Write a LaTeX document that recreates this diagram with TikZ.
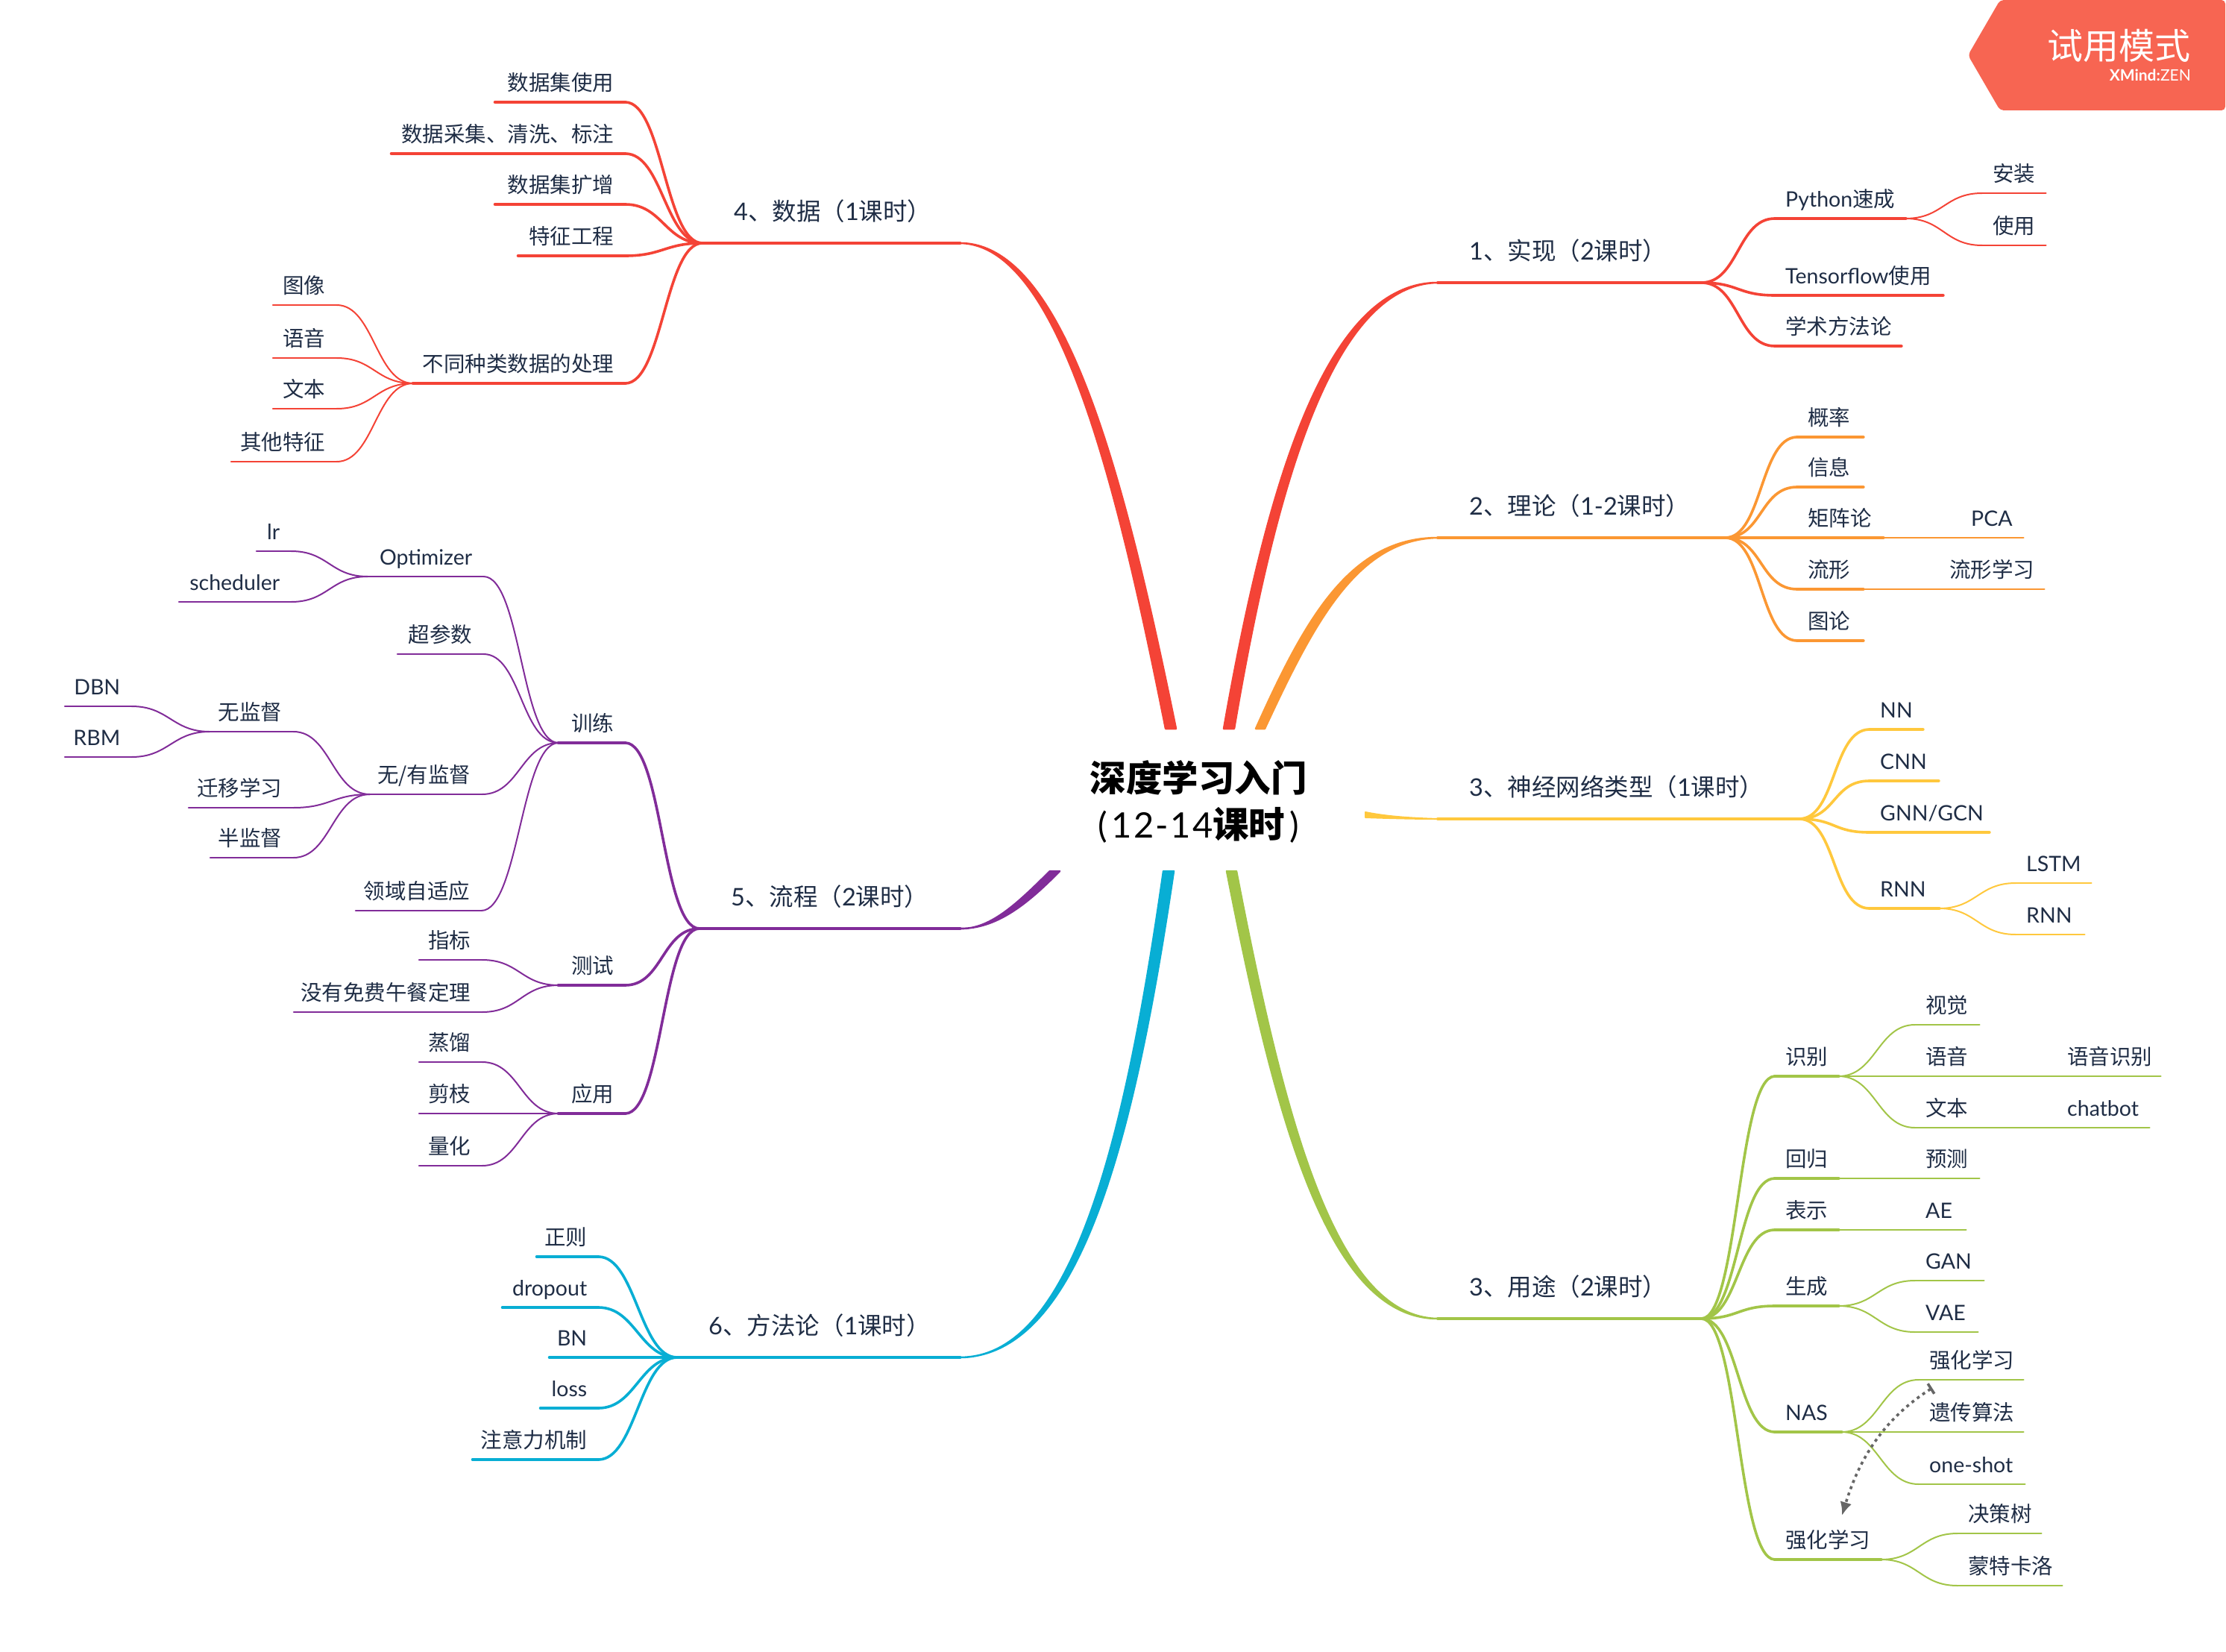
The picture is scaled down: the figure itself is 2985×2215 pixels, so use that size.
\documentclass[tikz,border=0pt]{standalone}
\usepackage{fontspec}
\usepackage{xcolor}
\usetikzlibrary{arrows.meta}
\setmainfont{Noto Sans CJK SC}
\newfontfamily\lat{Lato}
\definecolor{navyc}{HTML}{1F2D45}
\definecolor{redc}{HTML}{F44336}
\definecolor{orangec}{HTML}{FB9733}
\definecolor{yellowc}{HTML}{FFC83D}
\definecolor{greenc}{HTML}{A2C548}
\definecolor{cyanc}{HTML}{08AED4}
\definecolor{purplec}{HTML}{812C99}
\definecolor{tagc}{HTML}{F76552}

\begin{document}
\begin{tikzpicture}[
x=1pt,y=-1pt,
topic/.style={
inner ysep=0pt,
inner xsep=14pt,
text=navyc,
text height=22pt,
text depth=15pt,
anchor=south west,
font=\fontsize{28.5}{34}\selectfont
},
ulthin/.style={append after command={(\tikzlastnode.south west) edge[line width=2.6pt,line cap=round] (\tikzlastnode.south east)}},
ulthick/.style={append after command={(\tikzlastnode.south west) edge[line width=4.6pt,line cap=round] (\tikzlastnode.south east)}},
rbase/.style={topic,text width=#1pt-28pt,align=left},
lbase/.style={topic,inner xsep=15pt,text width=#1pt-30pt,align=right,execute at begin node={\hspace*{-40pt}}},
rleaf/.style={rbase=#1,ulthin},
lleaf/.style={lbase=#1,ulthin},
rsub/.style={rbase=#1,ulthick},
lsub/.style={lbase=#1,ulthick},
rmain/.style={topic,inner xsep=42pt,text depth=30pt,font=\fontsize{32.5}{38}\selectfont,text width=#1pt-84pt,align=left},
lmain/.style={topic,inner xsep=42pt,text depth=30pt,font=\fontsize{32.5}{38}\selectfont,text width=#1pt-84pt,align=right},
mainline/.style={line width=4pt,line cap=round},
subcurve/.style={line width=3.6pt,line cap=round},
leafcurve/.style={line width=2pt,line cap=round},
link/.style={line width=1.6pt},
band/.style={line width=2.5pt,line join=round},
toright/.style={out=0,in=180,distance=50pt},
toleft/.style={out=180,in=0,distance=50pt}
]
\useasboundingbox (0,0) rectangle (2985,2215);

\node[font=\fontsize{48.5}{62}\selectfont\bfseries,align=center,text=black,inner sep=0pt] (root) at (1607,1075)
{深度学习入门\\{\fontsize{47}{62}\selectfont\lat\mdseries\addfontfeature{LetterSpace=5}(\kern6pt 12-14}课时{\fontsize{47}{62}\selectfont\lat\mdseries\kern6pt)}};

\coordinate (redRa) at (1641,977);
\coordinate (redRb) at (1655,977);
\coordinate (orangea) at (1684,977);
\coordinate (orangeb) at (1696,977);
\coordinate (redLa) at (1563,977);
\coordinate (redLb) at (1577,977);
\coordinate (yellowa) at (1831,1089);
\coordinate (yellowb) at (1831,1096);
\coordinate (purplea) at (1408,1168);
\coordinate (purpleb) at (1421,1168);
\coordinate (cyana) at (1560,1168);
\coordinate (cyanb) at (1574,1168);
\coordinate (greena) at (1645,1168);
\coordinate (greenb) at (1658,1168);

% 1 right, red
\begin{scope}[redc]
\node[rmain=353] (impl) at (1928,379) {{\lat 1}、实现（{\lat 2}课时）};
\node[rsub=175] (python) at (2380,293) {{\lat Python}速成};
\node[rsub=225] (tf) at (2380,396) {{\lat Tensorflow}使用};
\node[rsub=169] (method1) at (2380,464) {学术方法论};
\node[rleaf=85] (install) at (2658,259) {安装};
\node[rleaf=85] (usepy) at (2658,329) {使用};
\filldraw[band] (impl.south west) .. controls (1780,379) and (1700,640) .. (redRa) -- (redRb) .. controls (1712,640) and (1790,381) .. (impl.south west) -- cycle;
\draw[mainline] (impl.south west) -- (impl.south east);
\draw[subcurve] (impl.south east) to[toright] (python.south west);
\draw[subcurve] (impl.south east) to[toright] (tf.south west);
\draw[subcurve] (impl.south east) to[toright] (method1.south west);
\draw[leafcurve] (python.south east) to[toright] (install.south west);
\draw[leafcurve] (python.south east) to[toright] (usepy.south west);
\end{scope}

% 2 right, orange
\begin{scope}[orangec]
\node[rmain=385] (theory) at (1928,721) {{\lat 2}、理论（{\lat 1-2}课时）};
\node[rsub=88] (prob) at (2410,586) {概率};
\node[rsub=88] (info) at (2410,653) {信息};
\node[rsub=115] (matrix) at (2410,721) {矩阵论};
\node[rsub=88] (manifold) at (2410,790) {流形};
\node[rsub=88] (graph) at (2410,859) {图论};
\node[rleaf=84] (pca) at (2629,721) {{\lat PCA}};
\node[rleaf=141] (mlearn) at (2600,790) {流形学习};
\filldraw[band] (theory.south west) .. controls (1810,721) and (1750,830) .. (orangea) -- (orangeb) .. controls (1762,835) and (1820,723) .. (theory.south west) -- cycle;
\draw[mainline] (theory.south west) -- (theory.south east);
\draw[subcurve] (theory.south east) to[toright] (prob.south west);
\draw[subcurve] (theory.south east) to[toright] (info.south west);
\draw[subcurve] (theory.south east) -- (matrix.south west);
\draw[subcurve] (theory.south east) to[toright] (manifold.south west);
\draw[subcurve] (theory.south east) to[toright] (graph.south west);
\draw[link] (matrix.south east) -- (pca.south west);
\draw[link] (manifold.south east) -- (mlearn.south west);
\end{scope}

% 3 right, yellow
\begin{scope}[yellowc]
\node[rmain=484] (nntype) at (1928,1098) {{\lat 3}、神经网络类型（{\lat 1}课时）};
\node[rsub=71] (nn) at (2507,978) {{\lat NN}};
\node[rsub=92] (cnn) at (2507,1047) {{\lat CNN}};
\node[rsub=160] (gnn) at (2507,1116) {{\lat GNN/GCN}};
\node[rsub=93] (rnn) at (2507,1218) {{\lat RNN}};
\node[rleaf=101] (lstm) at (2703,1184) {{\lat LSTM}};
\node[rleaf=92] (rnnb) at (2703,1253) {{\lat RNN}};
\filldraw[line width=2pt,line join=round] (nntype.south west) .. controls (1895,1098) and (1860,1097) .. (yellowb) -- (yellowa) .. controls (1860,1095) and (1895,1097) .. (nntype.south west) -- cycle;
\draw[mainline] (nntype.south west) -- (nntype.south east);
\draw[subcurve] (nntype.south east) to[toright] (nn.south west);
\draw[subcurve] (nntype.south east) to[toright] (cnn.south west);
\draw[subcurve] (nntype.south east) to[toright] (gnn.south west);
\draw[subcurve] (nntype.south east) to[toright] (rnn.south west);
\draw[leafcurve] (rnn.south east) to[toright] (lstm.south west);
\draw[leafcurve] (rnn.south east) to[toright] (rnnb.south west);
\end{scope}

% 3 right, green
\begin{scope}[greenc]
\node[rmain=353] (usage) at (1928,1768) {{\lat 3}、用途（{\lat 2}课时）};
\node[rsub=85] (detect) at (2380,1443) {识别};
\node[rsub=85] (regress) at (2380,1580) {回归};
\node[rsub=85] (repr) at (2380,1649) {表示};
\node[rsub=85] (gener) at (2380,1751) {生成};
\node[rsub=89] (nas) at (2380,1920) {{\lat NAS}};
\node[rsub=142] (rl) at (2380,2091) {强化学习};
\node[rleaf=86] (vision) at (2568,1374) {视觉};
\node[rleaf=86] (voice) at (2568,1443) {语音};
\node[rleaf=86] (textc) at (2568,1512) {文本};
\node[rleaf=139] (vrec) at (2758,1443) {语音识别};
\node[rleaf=124] (chatbot) at (2758,1512) {{\lat chatbot}};
\node[rleaf=86] (predict) at (2568,1580) {预测};
\node[rleaf=68] (ae) at (2568,1649) {{\lat AE}};
\node[rleaf=92] (gan) at (2568,1717) {{\lat GAN}};
\node[rleaf=84] (vae) at (2568,1786) {{\lat VAE}};
\node[rleaf=140] (nasrl) at (2573,1850) {强化学习};
\node[rleaf=140] (genetic) at (2573,1920) {遗传算法};
\node[rleaf=142] (oneshot) at (2573,1990) {{\lat one-shot}};
\node[rleaf=112] (dtree) at (2625,2056) {决策树};
\node[rleaf=140] (mcarlo) at (2625,2126) {蒙特卡洛};
\filldraw[band] (usage.south west) .. controls (1780,1768) and (1710,1500) .. (greena) -- (greenb) .. controls (1722,1500) and (1790,1766) .. (usage.south west) -- cycle;
\draw[mainline] (usage.south west) -- (usage.south east);
\draw[subcurve] (usage.south east) to[toright] (detect.south west);
\draw[subcurve] (usage.south east) to[toright] (regress.south west);
\draw[subcurve] (usage.south east) to[toright] (repr.south west);
\draw[subcurve] (usage.south east) to[toright] (gener.south west);
\draw[subcurve] (usage.south east) to[toright] (nas.south west);
\draw[subcurve] (usage.south east) to[toright] (rl.south west);
\draw[leafcurve] (detect.south east) to[toright] (vision.south west);
\draw[link] (detect.south east) -- (voice.south west);
\draw[leafcurve] (detect.south east) to[toright] (textc.south west);
\draw[link] (voice.south east) -- (vrec.south west);
\draw[link] (textc.south east) -- (chatbot.south west);
\draw[link] (regress.south east) -- (predict.south west);
\draw[link] (repr.south east) -- (ae.south west);
\draw[leafcurve] (gener.south east) to[toright] (gan.south west);
\draw[leafcurve] (gener.south east) to[toright] (vae.south west);
\draw[leafcurve] (nas.south east) to[toright] (nasrl.south west);
\draw[link] (nas.south east) -- (genetic.south west);
\draw[leafcurve] (nas.south east) to[toright] (oneshot.south west);
\draw[leafcurve] (rl.south east) to[toright] (dtree.south west);
\draw[leafcurve] (rl.south east) to[toright] (mcarlo.south west);
\end{scope}

% Dashed relation
\coordinate (relfrom) at (2591,1861);
\coordinate (relto) at (2470,2032);
\draw[draw=black!60,line width=3.6pt,dash pattern=on 4pt off 5pt,{Bar[width=16pt,line width=3.6pt]}-{Latex[length=18pt,width=16pt]}]
(relfrom) .. controls (2530,1900) and (2495,1950) .. (relto);

% 4 left, red
\begin{scope}[redc]
\node[lmain=345] (data) at (942,326) {{\lat 4}、数据（{\lat 1}课时）};
\node[lsub=174] (dsuse) at (664,137) {数据集使用};
\node[lsub=313] (dsget) at (525,206) {数据采集、清洗、标注};
\node[lsub=174] (dsaug) at (664,274) {数据集扩增};
\node[lsub=143] (feat) at (695,343) {特征工程};
\node[lsub=284] (kinds) at (554,514) {不同种类数据的处理};
\node[lleaf=85] (image) at (366,409) {图像};
\node[lleaf=85] (speech) at (366,480) {语音};
\node[lleaf=85] (textd) at (366,548) {文本};
\node[lleaf=141] (other) at (310,619) {其他特征};
\filldraw[band] (data.south east) .. controls (1430,326) and (1510,650) .. (redLb) -- (redLa) .. controls (1498,650) and (1420,328) .. (data.south east) -- cycle;
\draw[mainline] (data.south east) -- (data.south west);
\draw[subcurve] (data.south west) to[toleft] (dsuse.south east);
\draw[subcurve] (data.south west) to[toleft] (dsget.south east);
\draw[subcurve] (data.south west) to[toleft] (dsaug.south east);
\draw[subcurve] (data.south west) to[toleft] (feat.south east);
\draw[subcurve] (data.south west) to[toleft] (kinds.south east);
\draw[leafcurve] (kinds.south west) to[toleft] (image.south east);
\draw[leafcurve] (kinds.south west) to[toleft] (speech.south east);
\draw[leafcurve] (kinds.south west) to[toleft] (textd.south east);
\draw[leafcurve] (kinds.south west) to[toleft] (other.south east);
\end{scope}

% 5 left, purple
\begin{scope}[purplec]
\node[lmain=349] (flow) at (938,1245) {{\lat 5}、流程（{\lat 2}课时）};
\node[lsub=89] (train) at (749,996) {训练};
\node[lsub=89] (test) at (749,1321) {测试};
\node[lsub=89] (app) at (749,1493) {应用};
\node[lleaf=155] (opt) at (493,773) {{\lat Optimizer}};
\node[lleaf=46] (lr) at (344,739) {{\lat lr}};
\node[lleaf=150] (sched) at (240,807) {{\lat scheduler}};
\node[lleaf=115] (hyper) at (533,877) {超参数};
\node[lleaf=150] (sup) at (496,1065) {无/有监督};
\node[lleaf=112] (unsup) at (281,981) {无监督};
\node[lleaf=89] (dbn) at (87,947) {{\lat DBN}};
\node[lleaf=89] (rbm) at (87,1015) {{\lat RBM}};
\node[lleaf=140] (trans) at (253,1083) {迁移学习};
\node[lleaf=111] (semi) at (282,1150) {半监督};
\node[lleaf=168] (domain) at (477,1221) {领域自适应};
\node[lleaf=84] (metric) at (562,1287) {指标};
\node[lleaf=252] (nofree) at (394,1357) {没有免费午餐定理};
\node[lleaf=84] (distill) at (562,1424) {蒸馏};
\node[lleaf=84] (prune) at (562,1493) {剪枝};
\node[lleaf=84] (quant) at (562,1563) {量化};
\filldraw[band] (flow.south east) .. controls (1335,1245) and (1375,1215) .. (purpleb) -- (purplea) .. controls (1370,1205) and (1330,1247) .. (flow.south east) -- cycle;
\draw[mainline] (flow.south east) -- (flow.south west);
\draw[subcurve] (flow.south west) to[toleft] (train.south east);
\draw[subcurve] (flow.south west) to[toleft] (test.south east);
\draw[subcurve] (flow.south west) to[toleft] (app.south east);
\draw[leafcurve] (train.south west) to[toleft] (opt.south east);
\draw[leafcurve] (train.south west) to[toleft] (hyper.south east);
\draw[leafcurve] (train.south west) to[toleft] (sup.south east);
\draw[leafcurve] (train.south west) to[toleft] (domain.south east);
\draw[leafcurve] (opt.south west) to[toleft] (lr.south east);
\draw[leafcurve] (opt.south west) to[toleft] (sched.south east);
\draw[leafcurve] (sup.south west) to[toleft] (unsup.south east);
\draw[leafcurve] (sup.south west) to[toleft] (trans.south east);
\draw[leafcurve] (sup.south west) to[toleft] (semi.south east);
\draw[leafcurve] (unsup.south west) to[toleft] (dbn.south east);
\draw[leafcurve] (unsup.south west) to[toleft] (rbm.south east);
\draw[leafcurve] (test.south west) to[toleft] (metric.south east);
\draw[leafcurve] (test.south west) to[toleft] (nofree.south east);
\draw[leafcurve] (app.south west) to[toleft] (distill.south east);
\draw[link] (app.south west) -- (prune.south east);
\draw[leafcurve] (app.south west) to[toleft] (quant.south east);
\end{scope}

% 6 left, cyan
\begin{scope}[cyanc]
\node[lmain=379] (methods) at (908,1820) {{\lat 6}、方法论（{\lat 1}课时）};
\node[lsub=82] (reg) at (720,1685) {正则};
\node[lsub=128] (drop) at (674,1753) {{\lat dropout}};
\node[lsub=65] (bn) at (737,1820) {{\lat BN}};
\node[lsub=77] (loss) at (725,1888) {{\lat loss}};
\node[lsub=168] (attn) at (634,1957) {注意力机制};
\filldraw[band] (methods.south east) .. controls (1440,1820) and (1510,1520) .. (cyana) -- (cyanb) .. controls (1522,1520) and (1450,1818) .. (methods.south east) -- cycle;
\draw[mainline] (methods.south east) -- (methods.south west);
\draw[subcurve] (methods.south west) to[toleft] (reg.south east);
\draw[subcurve] (methods.south west) to[toleft] (drop.south east);
\draw[subcurve] (methods.south west) -- (bn.south east);
\draw[subcurve] (methods.south west) to[toleft] (loss.south east);
\draw[subcurve] (methods.south west) to[toleft] (attn.south east);
\end{scope}

% Corner tag
\fill[tagc,rounded corners=5pt] (2682,0) -- (2984,0) -- (2984,148) -- (2682,148) -- (2639,74) -- cycle;
\node[anchor=base east,inner sep=0pt,text=white,font=\fontsize{48}{48}\selectfont] (tagtitle) at (2938,80) {试用模式};
\node[anchor=base east,inner sep=0pt,text=white,font=\fontsize{21}{21}\selectfont\lat] (tagbrand) at (2938,109) {\textbf{XMind:}ZEN};

\end{tikzpicture}
\end{document}
